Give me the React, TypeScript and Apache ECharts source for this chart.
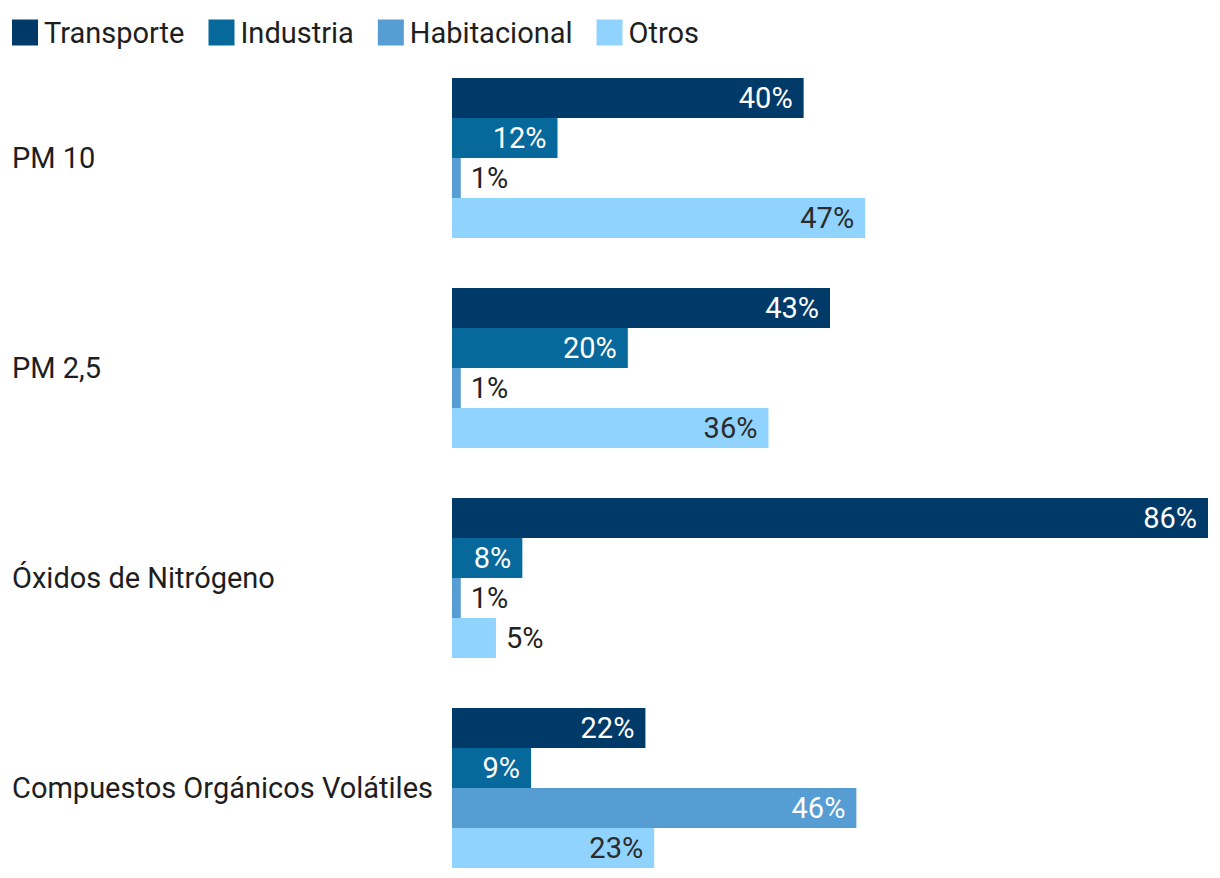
import React, { useEffect, useRef } from "react";
import * as echarts from "echarts";

const categories = ["PM 10", "PM 2,5", "Óxidos de Nitrógeno", "Compuestos Orgánicos Volátiles"];
const seriesNames = ["Transporte", "Industria", "Habitacional", "Otros"];
const transporte = [40, 43, 86, 22];
const industria = [12, 20, 8, 9];
const habitacional = [1, 1, 1, 46];
const otros = [47, 36, 5, 23];
const colors = ["#003a69", "#07689b", "#559dd3", "#8fd3fe"];
const insideTextColors = ["#ffffff", "#ffffff", "#ffffff", "#2b2b2b"];

const FONT = "Roboto, 'Noto Sans', sans-serif";

export default function App() {
  const ref = useRef<HTMLDivElement>(null);
  useEffect(() => {
    if (!ref.current) return;
    const chart = echarts.init(ref.current, undefined, { renderer: "svg" });
    const all = [transporte, industria, habitacional, otros];
    const series = all.map((vals, si) => ({
      name: seriesNames[si],
      type: "bar",
      barWidth: 40,
      barGap: "0%",
      itemStyle: { color: colors[si] },
      data: vals.map((v) => ({
        value: v,
        label: v >= 8
          ? { position: "insideRight", distance: 11, color: insideTextColors[si] }
          : { position: "right", distance: 10, color: "#222222" },
      })),
      label: {
        show: true,
        formatter: "{c}%",
        fontFamily: FONT,
        fontSize: 29,
      },
    }));
    chart.setOption({
      animation: false,
      textStyle: { fontFamily: FONT },
      legend: {
        left: 12,
        top: 18,
        padding: 0,
        itemWidth: 26,
        itemHeight: 26,
        itemGap: 24,
        icon: "rect",
        textStyle: { fontSize: 29, color: "#1e1e1e", fontFamily: FONT, padding: [0, 0, 0, 1] },
        data: seriesNames,
      },
      grid: { left: 452, top: 53, width: 756, height: 840, containLabel: false },
      xAxis: {
        type: "value",
        min: 0,
        max: 86,
        show: false,
      },
      yAxis: {
        type: "category",
        inverse: true,
        data: categories,
        axisLine: { show: false },
        axisTick: { show: false },
        splitLine: { show: false },
        axisLabel: {
          align: "left",
          margin: 440,
          fontSize: 29,
          color: "#1e1e1e",
          fontFamily: FONT,
        },
      },
      series,
    });
    return () => chart.dispose();
  }, []);
  return (
    <div
      ref={ref}
      style={{ position: "fixed", left: 0, top: 0, width: 1220, height: 920, background: "#fff" }}
    />
  );
}
